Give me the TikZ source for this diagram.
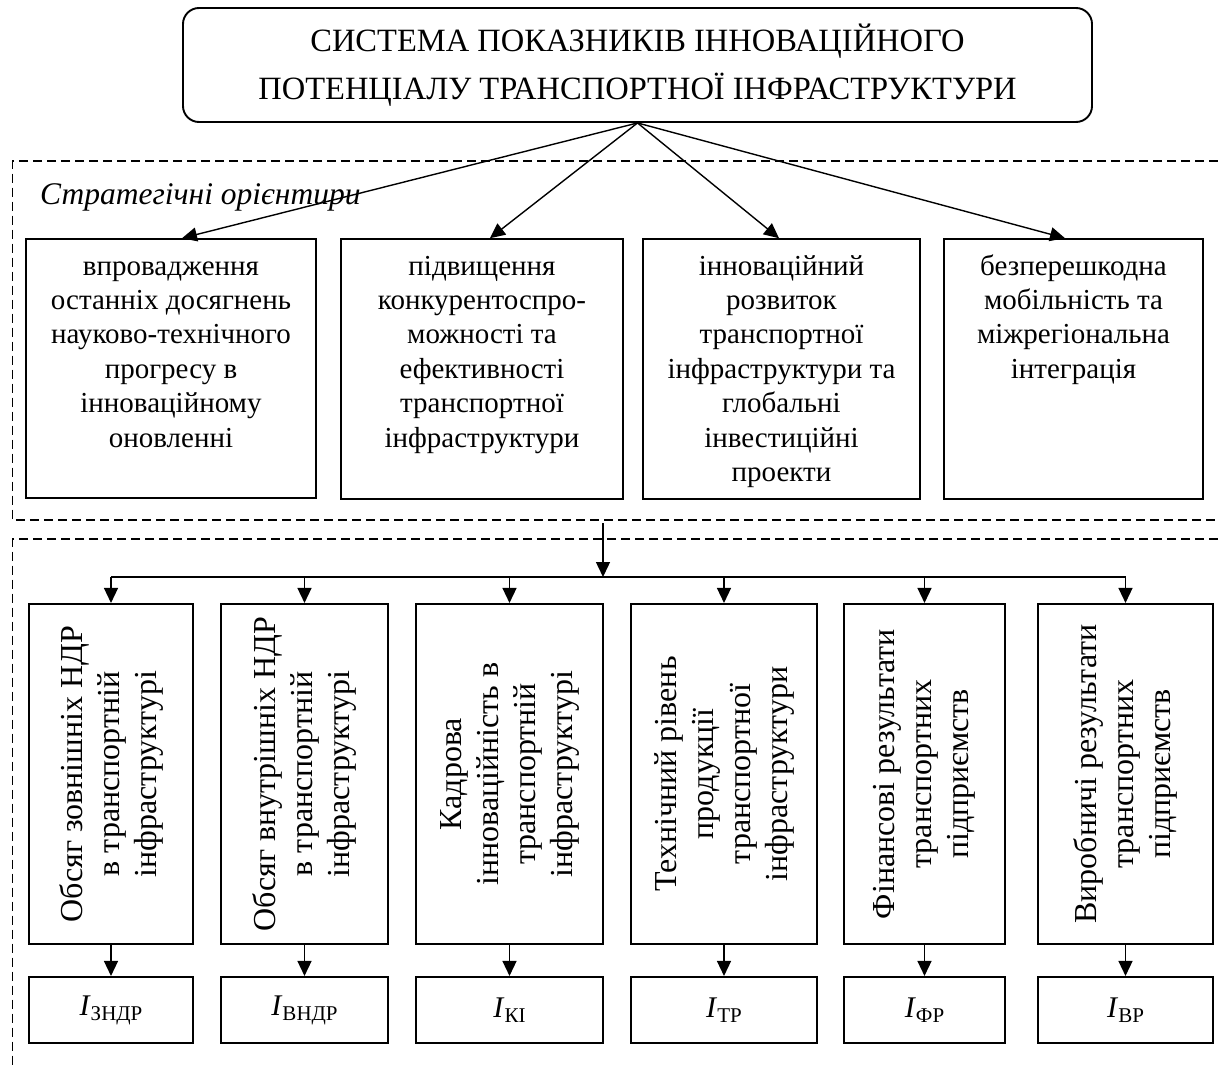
\documentclass[tikz,border=0pt]{standalone}
\usepackage{fontspec}
\setmainfont{Liberation Serif}
\usepackage{graphicx}
\usetikzlibrary{arrows.meta}
\tikzset{
  frame/.style={draw, line width=1.2pt, dash pattern=on 9pt off 5pt},
  titlebox/.style={draw, line width=1.9pt, rounded corners=16pt, minimum width=909pt, minimum height=114pt, align=center, font=\fontsize{32.5}{48}\selectfont},
  topbox/.style={draw, line width=1.6pt, inner sep=0pt},
  vbox/.style={draw, line width=2.1pt, inner sep=0pt, minimum height=340pt},
  ibox/.style={draw, line width=2.1pt, inner sep=0pt, minimum height=66pt},
  arr/.style={line width=1.4pt, -{Triangle[length=15pt,width=14pt]}},
  busline/.style={line width=1.2pt}
}
\newcommand{\toptext}[3]{\parbox[c][#2][t]{#1}{\centering\fontsize{29}{34.4}\selectfont\rule{0pt}{36pt}#3\par}}
\newcommand{\vtext}[1]{\rotatebox{90}{\parbox{330pt}{\centering\fontsize{32}{37}\selectfont #1\par}}}
\newcommand{\indx}[1]{\fontsize{30}{30}\selectfont\textit{I}\raisebox{-5pt}{\fontsize{21}{21}\selectfont #1}}
\begin{document}
\begin{tikzpicture}[x=1pt,y=-1pt]
\useasboundingbox (0,0) rectangle (1218,1068);
% frames
\draw[frame] (1218,161) -- (12.5,161) -- (12.5,520) -- (1218,520);
\draw[frame] (1218,539) -- (12.5,539) -- (12.5,1068);
% title
\node[titlebox] (title) at (637.5,65) {СИСТЕМА ПОКАЗНИКІВ ІННОВАЦІЙНОГО\\ПОТЕНЦІАЛУ ТРАНСПОРТНОЇ ІНФРАСТРУКТУРИ};
\node[anchor=base west, inner sep=0pt, font=\itshape\fontsize{31.5}{36}\selectfont] (strat) at (40,204) {Стратегічні орієнтири};
% top boxes
\node[topbox] (b1) at (171,368.5) {\toptext{290pt}{259pt}{впровадження\\останніх досягнень\\науково-технічного\\прогресу в\\інноваційному\\оновленні}};
\node[topbox] (b2) at (482,369) {\toptext{282pt}{260pt}{підвищення\\конкурентоспро-\\можності та\\ефективності\\транспортної\\інфраструктури}};
\node[topbox] (b3) at (781.5,369) {\toptext{277pt}{260pt}{інноваційний\\розвиток\\транспортної\\інфраструктури та\\глобальні\\інвестиційні\\проекти}};
\node[topbox] (b4) at (1073.5,369) {\toptext{259pt}{260pt}{безперешкодна\\мобільність та\\міжрегіональна\\інтеграція}};
\draw[arr] (title.south) -- ([xshift=11pt]b1.north);
\draw[arr] (title.south) -- ([xshift=8pt]b2.north);
\draw[arr] (title.south) -- ([xshift=-2.5pt]b3.north);
\draw[arr] (title.south) -- ([xshift=-8.5pt]b4.north);
% vertical boxes
\node[vbox, minimum width=164pt] (v1) at (111,774) {\vtext{Обсяг зовнішніх НДР\\в транспортній\\інфраструктурі}};
\node[vbox, minimum width=167pt] (v2) at (304.5,774) {\vtext{Обсяг внутрішніх НДР\\в транспортній\\інфраструктурі}};
\node[vbox, minimum width=187pt] (v3) at (509.5,774) {\vtext{Кадрова\\інноваційність в\\транспортній\\інфраструктурі}};
\node[vbox, minimum width=186pt] (v4) at (724,774) {\vtext{Технічний рівень\\продукції\\транспортної\\інфраструктури}};
\node[vbox, minimum width=161pt] (v5) at (924.5,774) {\vtext{Фінансові результати\\транспортних\\підприємств}};
\node[vbox, minimum width=175pt] (v6) at (1125.5,774) {\vtext{Виробничі результати\\транспортних\\підприємств}};
% index boxes
\node[ibox, minimum width=164pt] (i1) at (111,1010) {\indx{ЗНДР}};
\node[ibox, minimum width=167pt] (i2) at (304.5,1010) {\indx{ВНДР}};
\node[ibox, minimum width=187pt] (i3) at (509.5,1010) {\indx{КІ}};
\node[ibox, minimum width=186pt] (i4) at (724,1010) {\indx{ТР}};
\node[ibox, minimum width=161pt] (i5) at (924.5,1010) {\indx{ФР}};
\node[ibox, minimum width=175pt] (i6) at (1125.5,1010) {\indx{ВР}};
% bus
\coordinate (out) at (603,523);
\coordinate (bus) at (603,577);
\draw[arr] (out) -- (bus);
\draw[busline] (v1.north |- bus) -- (v6.north |- bus);
\foreach \k in {1,...,6} {
  \draw[arr] (v\k.north |- bus) -- (v\k.north);
  \draw[arr] (v\k.south) -- (i\k.north);
}
\end{tikzpicture}
\end{document}
